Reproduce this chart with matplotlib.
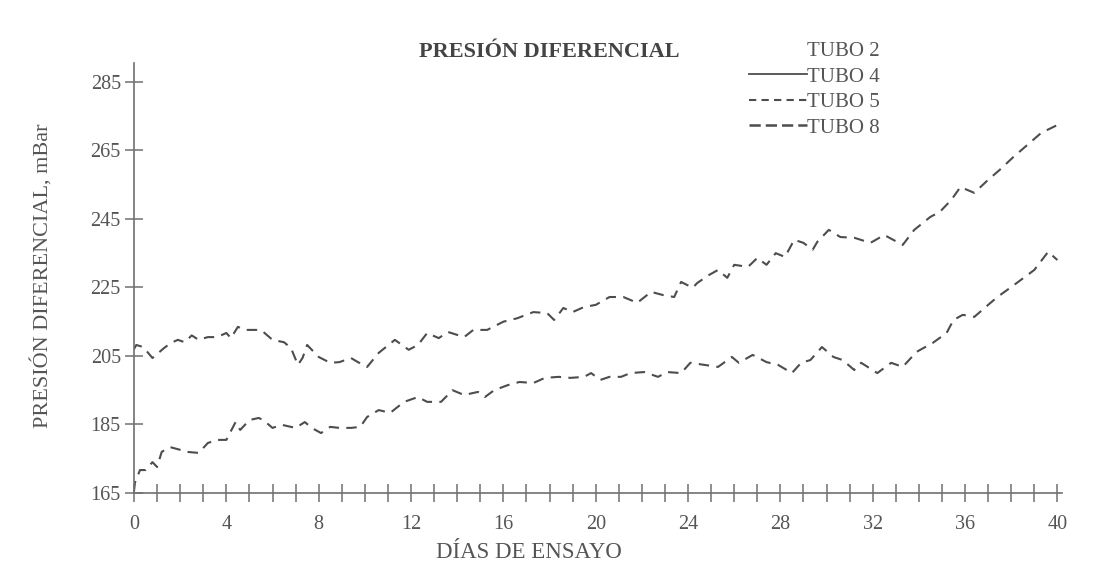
import matplotlib.pyplot as plt
from matplotlib.lines import Line2D

# Days and readings (mBar)
days_upper = [0.0, 0.1, 0.4, 0.8, 1.3, 1.6, 1.9, 2.2, 2.5, 2.8, 3.2, 3.6, 4.0, 4.2, 4.5,
              4.8, 5.2, 5.5, 6.0, 6.5, 6.8, 7.1, 7.3, 7.5, 8.0, 8.5, 8.9, 9.4, 9.7, 10.1,
              10.6, 11.3, 11.9, 12.3, 12.7, 13.2, 13.6, 14.3, 14.7, 15.3, 16.0, 16.6, 17.3,
              17.9, 18.2, 18.6, 19.0, 19.5, 20.0, 20.6, 21.2, 21.8, 22.4, 22.9, 23.4, 23.7,
              24.2, 24.4, 24.9, 25.3, 25.7, 26.0, 26.6, 27.0, 27.4, 27.8, 28.2, 28.6, 29.0,
              29.4, 29.6, 30.1, 30.6, 31.2, 31.9, 32.5, 33.3, 33.8, 34.5, 34.9, 35.4, 35.8,
              36.4, 37.0, 37.5, 38.1, 38.7, 39.3, 40.0]
tubo5 = [207.0, 208.2, 207.6, 204.4, 207.3, 208.8, 209.7, 209.0, 211.0, 209.7, 210.5, 210.5,
         211.7, 210.2, 213.5, 212.6, 212.6, 212.6, 209.7, 209.0, 207.3, 202.4, 204.4, 208.2,
         204.7, 203.0, 203.2, 204.4, 203.2, 201.8, 205.9, 209.7, 206.8, 208.2, 211.7, 210.2,
         212.0, 210.5, 212.6, 212.6, 215.0, 216.0, 217.8, 217.5, 215.5, 219.0, 217.8, 219.3,
         219.9, 222.2, 222.2, 220.5, 223.7, 222.8, 222.2, 226.6, 224.9, 226.3, 228.6, 230.1,
         227.8, 231.6, 231.0, 233.6, 231.6, 235.0, 233.9, 238.9, 238.0, 236.0, 238.3, 241.8,
         239.7, 239.5, 238.0, 240.3, 237.4, 241.8, 245.6, 247.0, 250.5, 254.3, 252.6, 256.4,
         259.3, 263.1, 266.6, 270.1, 272.4]

days_lower = [0.0, 0.04, 0.26, 0.5, 0.8, 1.0, 1.2, 1.56, 2.0, 2.3, 2.8, 3.2, 3.6, 4.0, 4.4,
              4.6, 5.0, 5.4, 5.6, 6.0, 6.4, 7.0, 7.4, 7.7, 8.1, 8.5, 8.9, 9.4, 9.8, 10.1,
              10.6, 11.1, 11.7, 12.3, 12.7, 13.3, 13.8, 14.3, 14.9, 15.2, 15.6, 16.2, 16.7,
              17.3, 17.8, 18.4, 18.9, 19.5, 19.8, 20.2, 20.6, 21.1, 21.5, 22.1, 22.7, 23.1,
              23.7, 24.1, 24.7, 25.3, 25.9, 26.2, 26.8, 27.4, 27.9, 28.5, 28.9, 29.3, 29.8,
              30.3, 30.7, 31.2, 31.5, 32.2, 32.8, 33.3, 33.9, 34.6, 35.2, 35.5, 35.9, 36.4,
              37.0, 37.4, 38.0, 38.6, 39.0, 39.6, 40.0]
tubo8 = [165.5, 168.0, 171.7, 171.7, 174.0, 172.6, 177.0, 178.4, 177.6, 177.0, 176.7, 179.6,
         180.5, 180.5, 185.7, 183.4, 186.3, 186.9, 186.3, 184.0, 184.9, 184.0, 185.7, 184.0,
         182.5, 184.3, 184.0, 184.0, 184.3, 187.2, 189.2, 188.4, 191.6, 193.0, 191.6, 191.6,
         195.0, 193.6, 194.5, 193.0, 195.0, 196.5, 197.4, 197.1, 198.6, 198.9, 198.6, 198.9,
         200.0, 198.0, 198.9, 198.9, 200.0, 200.3, 198.9, 200.3, 200.0, 203.0, 202.4, 201.8,
         204.7, 203.0, 205.3, 203.2, 202.4, 200.0, 203.0, 203.8, 207.6, 204.7, 203.8, 200.9,
         203.0, 200.0, 203.0, 201.8, 206.2, 208.8, 211.7, 215.5, 217.0, 216.4, 219.9, 222.2,
         225.1, 228.1, 230.1, 235.4, 233.0]

y_ticks = [165, 185, 205, 225, 245, 265, 285]
x_ticks = [0, 4, 8, 12, 16, 20, 24, 28, 32, 36, 40]
legend_labels = ['TUBO 2', 'TUBO 4', 'TUBO 5', 'TUBO 8']

plt.rcParams['font.family'] = ['Liberation Serif', 'DejaVu Serif']
ink = '#4d4d4d'
axis_col = '#707070'

fig = plt.figure(figsize=(10.95, 5.8), dpi=100)
ax = fig.add_axes([134 / 1095, 1 - 493 / 580, (1062 - 134) / 1095, (493 - 63) / 580])

ax.plot(days_upper, tubo5, color=ink, lw=1.5, dashes=(5, 3.5))
ax.plot(days_lower, tubo8, color=ink, lw=1.5, dashes=(5, 3.5))

ax.set_xlim(0, 40.2)
ax.set_ylim(165, 290.5)
ax.set_yticks(y_ticks)
ax.set_xticks(x_ticks)
ax.set_xticks(range(0, 41), minor=True)
for side in ['top', 'right']:
    ax.spines[side].set_visible(False)
for side in ['left', 'bottom']:
    ax.spines[side].set_color(axis_col)
    ax.spines[side].set_linewidth(1.2)
ax.tick_params(which='both', direction='inout', length=13, width=1.1, color=axis_col,
               labelsize=14.5, labelcolor='#555555')
ax.tick_params(axis='x', pad=9)
ax.tick_params(axis='y', pad=3)

ax.set_xlabel('DÍAS DE ENSAYO', fontsize=16.5, color='#555555')
ax.xaxis.set_label_coords((529 - 134) / (1062 - 134), -0.115)
ax.set_ylabel('PRESIÓN DIFERENCIAL, mBar', fontsize=16, color='#555555')
ax.yaxis.set_label_coords(-0.088, 0.505)

fig.text(549 / 1095, 1 - 52 / 580, 'PRESIÓN DIFERENCIAL', ha='center', va='center',
         fontsize=16, fontweight='bold', color='#444444')

handles = [
    Line2D([], [], color='none'),
    Line2D([], [], color=ink, lw=1.3),
    Line2D([], [], color=ink, lw=1.5, dashes=(3.5, 2.5)),
    Line2D([], [], color=ink, lw=1.8, dashes=(4.5, 2)),
]
fig.legend(handles, legend_labels, loc='upper left',
           bbox_to_anchor=(730 / 1095, 1 - 23 / 580), frameon=False, fontsize=15,
           handlelength=2.8, handletextpad=0.0, labelspacing=0.28, labelcolor='#555555')

fig.savefig('out.png', dpi=100)
